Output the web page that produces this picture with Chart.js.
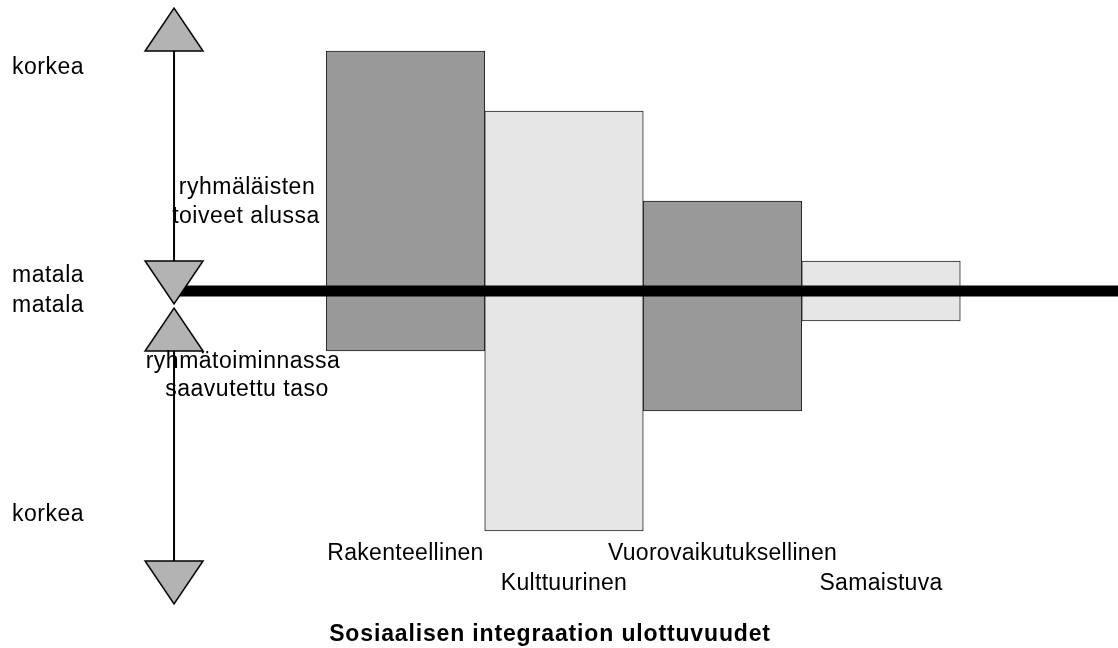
<!DOCTYPE html>
<html>
<head>
<meta charset="utf-8">
<script src="https://cdn.jsdelivr.net/npm/chart.js@4.4.1/dist/chart.umd.min.js"></script>
<style>
  html, body { margin: 0; padding: 0; background: #fff; }
  #wrap { width: 1118px; height: 648px; }
</style>
</head>
<body>
<div id="wrap"><canvas id="chart"></canvas></div>
<script>
// dimensions and how far each bar reaches above / below the zero line
var categories = ['Rakenteellinen', 'Kulttuurinen', 'Vuorovaikutuksellinen', 'Samaistuva'];
var wishes = [8, 6, 3, 1];          // ryhmäläisten toiveet alussa
var achieved = [-2, -8, -4, -1];    // ryhmätoiminnassa saavutettu taso
var barColors = ['#999999', '#e6e6e6', '#999999', '#e6e6e6'];

// the two arrows of the left scale: [matala, korkea]
var upperArrow = [1, 8];
var lowerArrow = [-2, -9];
var levelLabels = ['korkea', 'matala', 'matala', 'korkea'];
var upperNote = ['ryhmäläisten', 'toiveet alussa'];
var lowerNote = ['ryhmätoiminnassa', 'saavutettu taso'];
var chartTitle = 'Sosiaalisen integraation ulottuvuudet';

// scale ranges (x in category units, bars centred on 1..4)
var X_MIN = -1.558, X_MAX = 5.495, AXIS_X = -0.46;
var Y_MIN = -10.98, Y_MAX = 9.7;

Chart.defaults.font.family = '"Liberation Sans", Arial, sans-serif';
Chart.defaults.color = '#000';

function arrowHead(up) {
    var w = 58, h = 43;
    var c = document.createElement('canvas');
    c.width = w + 4;
    c.height = 2 * h + 4;
    var g = c.getContext('2d');
    var mid = c.height / 2;
    g.beginPath();
    g.moveTo(2, mid);
    g.lineTo(w + 2, mid);
    g.lineTo(w / 2 + 2, up ? mid - h : mid + h);
    g.closePath();
    g.fillStyle = '#b3b3b3';
    g.fill();
    g.lineWidth = 1.5;
    g.strokeStyle = '#000';
    g.stroke();
    return c;
}
var upHead = arrowHead(true), downHead = arrowHead(false);

var notesPlugin = {
    id: 'notes',
    beforeDraw: function(chart) {
        chart.ctx.letterSpacing = '0.3px';
    },
    afterDraw: function(chart) {
        var ctx = chart.ctx;
        ctx.save();
        ctx.fillStyle = '#000';
        ctx.letterSpacing = '0.5px';
        ctx.font = '23px "Liberation Sans", Arial, sans-serif';
        ctx.textBaseline = 'middle';
        ctx.textAlign = 'left';
        var ly = [68, 276, 306, 515];
        levelLabels.forEach(function(t, i) { ctx.fillText(t, 12, ly[i]); });
        ctx.textAlign = 'center';
        ctx.fillText(upperNote[0], 247, 188);
        ctx.fillText(upperNote[1], 246, 217);
        ctx.fillText(lowerNote[0], 243, 362);
        ctx.fillText(lowerNote[1], 247, 390);
        ctx.letterSpacing = '0.85px';
        ctx.font = 'bold 23px "Liberation Sans", Arial, sans-serif';
        ctx.fillText(chartTitle, 550, 635);
        ctx.restore();
        ctx.letterSpacing = '0px';
    }
};

var ctx = document.getElementById('chart').getContext('2d');
var chart = new Chart(ctx, {
    type: 'bar',
    data: {
        datasets: [{
            type: 'scatter',
            order: 0,
            data: [
                {x: AXIS_X, y: upperArrow[1]},
                {x: AXIS_X, y: upperArrow[0]},
                {x: AXIS_X, y: lowerArrow[0]},
                {x: AXIS_X, y: lowerArrow[1]}
            ],
            pointStyle: [upHead, downHead, upHead, downHead],
            pointRadius: 1,
            showLine: false
        }, {
            type: 'line',
            order: 1,
            data: [
                {x: AXIS_X, y: upperArrow[1]},
                {x: AXIS_X, y: upperArrow[0]},
                {x: AXIS_X, y: null},
                {x: AXIS_X, y: lowerArrow[0]},
                {x: AXIS_X, y: lowerArrow[1]}
            ],
            borderColor: '#000',
            borderWidth: 2,
            pointRadius: 0,
            fill: false
        }, {
            type: 'line',
            order: 2,
            data: [{x: AXIS_X, y: 0}, {x: X_MAX, y: 0}],
            borderColor: '#000',
            borderWidth: 11,
            borderCapStyle: 'butt',
            pointRadius: 0,
            fill: false
        }, {
            order: 3,
            data: categories.map(function(c, i) {
                return {x: i + 1, y: [achieved[i], wishes[i]]};
            }),
            backgroundColor: barColors,
            borderColor: '#222',
            borderWidth: 1,
            borderSkipped: false,
            barPercentage: 1,
            categoryPercentage: 1
        }]
    },
    options: {
        responsive: true,
        maintainAspectRatio: false,
        animation: false,
        layout: { autoPadding: false, padding: { left: 0, right: 0, top: 0, bottom: 27.6 } },
        plugins: {
            legend: { display: false },
            tooltip: { enabled: false },
            title: { display: false }
        },
        scales: {
            x: {
                type: 'linear',
                min: X_MIN,
                max: X_MAX,
                offset: false,
                position: { y: Math.min.apply(null, achieved) },
                grid: { display: false },
                border: { display: false },
                afterBuildTicks: function(scale) {
                    scale.ticks = categories.map(function(c, i) { return {value: i + 1}; });
                },
                ticks: {
                    autoSkip: false,
                    maxRotation: 0,
                    minRotation: 0,
                    padding: 0,
                    color: '#000',
                    font: { size: 23, lineHeight: 30 / 23 },
                    callback: function(v, i) {
                        return i % 2 ? ['', categories[i]] : categories[i];
                    }
                }
            },
            y: {
                display: false,
                min: Y_MIN,
                max: Y_MAX
            }
        }
    },
    plugins: [notesPlugin]
});
</script>
</body>
</html>
